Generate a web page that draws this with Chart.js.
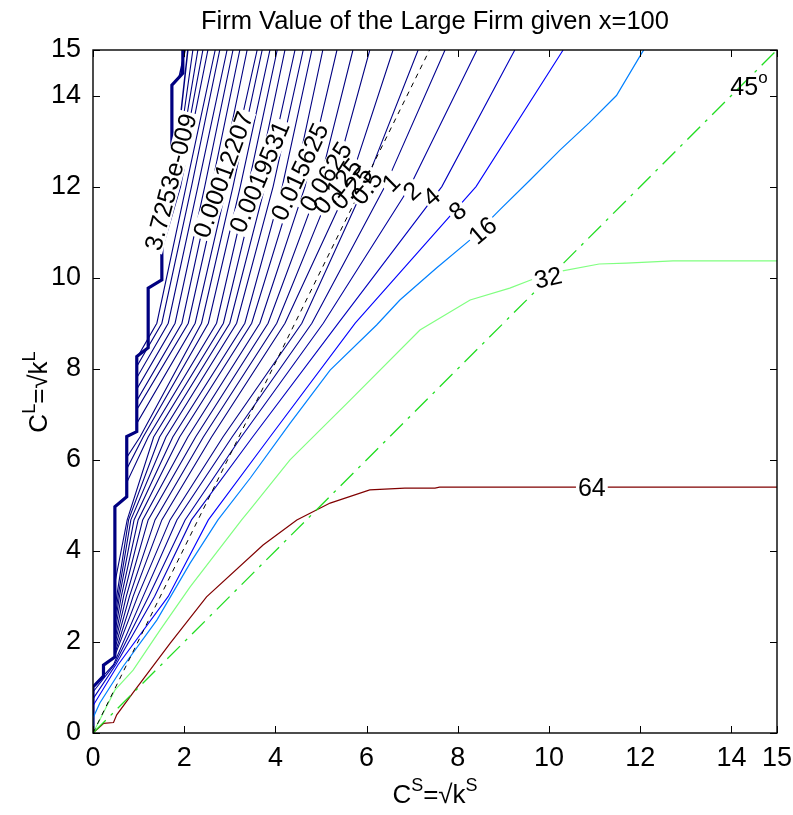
<!DOCTYPE html>
<html>
<head>
<meta charset="utf-8">
<script src="https://cdn.jsdelivr.net/npm/chart.js@4.4.1/dist/chart.umd.min.js"></script>
<style>
html,body{margin:0;padding:0;background:#fff;}
canvas{display:block;}
</style>
</head>
<body>
<canvas id="c" width="793" height="815" style="width:793px;height:815px"></canvas>
<script>
// ---------------- DATA ----------------
const xTicks = [0, 2, 4, 6, 8, 10, 12, 14, 15];
const yTicks = [0, 2, 4, 6, 8, 10, 12, 14, 15];

// contour levels (blue family), highest first
const levels = [8, 4, 2, 1, 0.5, 0.25, 0.125, 0.0625, 0.03125, 0.015625, 0.0078125, 0.00390625,
  0.0019531, 0.00097656, 0.00048828, 0.00024414, 0.00012207, 6.1035e-5, 3.0518e-5, 1.5259e-5,
  7.6294e-6, 3.8147e-6, 1.9073e-6, 9.5367e-7, 4.7684e-7, 2.3842e-7, 1.1921e-7, 5.9605e-8,
  2.9802e-8, 1.4901e-8, 7.4506e-9, 3.7253e-9];

// x position of each blue contour at given heights C^L (null = already merged into the staircase)
const rowY = [15, 12, 9, 6.5, 4.68, 3, 1.5];
const row15 = [10.31, 9.25, 8.42, 7.72, 7.13, 6.58, 6.07, 5.70, 5.35, 5.04, 4.80, 4.61, 4.43, 4.21, 4.04, 3.88,
  3.71, 3.60, 3.38, 3.22, 3.07, 2.94, 2.78, 2.68, 2.52, 2.41, 2.30, 2.19, 2.08, 2.02, 2.00, null];
const row12 = [8.40, 7.65, 6.95, 6.40, 5.95, 5.60, 5.25, 4.95, 4.65, 4.40, 4.15, 3.95, 3.77, 3.58, 3.40, 3.23,
  3.07, 2.93, 2.76, 2.60, 2.45, 2.30, 2.16, 2.04, 1.92, 1.85, 1.80, 1.77, 1.75, null, null, null];
const row9 = [5.75, 5.38, 5.05, 4.80, 4.58, 4.21, 4.03, 3.84, 3.66, 3.48, 3.33, 3.15, 3.00, 2.86, 2.71, 2.53,
  2.38, 2.24, 2.09, 1.95, 1.80, 1.65, 1.51, 1.40, null, null, null, null, null, null, null, null];
const row6_5 = [3.88, 3.50, 3.25, 3.05, 2.85, 2.60, 2.42, 2.25, 2.08, 1.90, 1.75, 1.60, 1.46, 1.33, 1.21, 1.10,
  1.03, null, null, null, null, null, null, null, null, null, null, null, null, null, null, null];
const row4_68 = [2.53, 2.16, 2.02, 1.84, 1.69, 1.51, 1.36, 1.21, 1.09, 0.99, 0.90, 0.83, 0.78, 0.75, null, null,
  null, null, null, null, null, null, null, null, null, null, null, null, null, null, null, null];
const row3 = [1.65, 1.35, 1.22, 1.10, 0.98, 0.88, 0.80, 0.73, 0.67, 0.62, 0.58, 0.55, 0.52, null, null, null,
  null, null, null, null, null, null, null, null, null, null, null, null, null, null, null, null];
const row1_5 = [0.55, 0.50, 0.47, 0.45, null, null, null, null, null, null, null, null, null, null, null, null,
  null, null, null, null, null, null, null, null, null, null, null, null, null, null, null, null];
// height where each contour joins the staircase edge
const mergeY = [0.6, 0.75, 0.9, 1.1, 1.7, 1.75, 1.85, 1.95, 2.05, 2.2, 2.35, 2.5, 2.7, 3.3, 5.5, 5.8,
  6.05, 6.8, 7.1, 7.3, 7.55, 7.8, 8.05, 8.3, 10.6, 11.0, 11.3, 11.5, 11.65, 14.4, 14.45, 15];

// staircase edge (lowest contour 3.7253e-009)
const stairX = [1.97, 1.97, 1.73, 1.73, 1.51, 1.51, 1.21, 1.21, 0.96, 0.96, 0.74, 0.74, 0.48, 0.48, 0.23, 0.23, 0.00, 0.00];
const stairY = [15, 14.49, 14.23, 11.8, 11.6, 9.95, 9.77, 8.46, 8.27, 6.62, 6.51, 5.19, 4.97, 1.67, 1.49, 1.25, 1.01, 0.00];

// level 16
const l16X = [0, 0.00, 0.15, 0.66, 1.40, 2.13, 2.74, 3.45, 4.32, 5.20, 6.22, 6.73, 7.52, 8.27, 8.93, 9.58, 10.24, 10.88, 11.48, 12.05, 12.08];
const l16Y = [0, 0.33, 0.66, 1.46, 2.48, 3.73, 4.68, 5.60, 6.80, 7.97, 8.96, 9.51, 10.20, 10.83, 11.50, 12.14, 12.80, 13.40, 14.00, 14.96, 15.0];
// level 32
const l32X = [0, 0.15, 0.48, 0.88, 1.47, 2.13, 3.26, 3.44, 4.32, 5.64, 7.17, 8.27, 9.14, 9.60, 10.24, 11.10, 11.70, 12.72, 15.0];
const l32Y = [0, 0.29, 0.94, 1.38, 2.26, 3.21, 4.68, 4.90, 6.00, 7.31, 8.85, 9.51, 9.77, 9.95, 10.14, 10.30, 10.32, 10.37, 10.37];
// level 64
const l64X = [0, 0.23, 0.45, 0.52, 0.92, 1.69, 2.49, 3.73, 4.47, 5.20, 6.07, 6.84, 7.50, 7.60, 15.0];
const l64Y = [0, 0.21, 0.23, 0.40, 0.94, 1.97, 2.99, 4.13, 4.68, 5.05, 5.34, 5.38, 5.38, 5.40, 5.40];

// reference lines
const diagX = [0, 15], diagY = [0, 15];          // 45 degree line
const refX = [0, 7.38], refY = [0, 15];          // black dashed line

// contour labels
const labelText = ['3.7253e-009', '0.00012207', '0.0019531', '0.015625', '0.0625', '0.125', '0.25', '0.5', '1', '2', '4', '8', '16', '32', '64'];
const labelX = [1.71, 2.86, 3.66, 4.54, 5.11, 5.37, 5.68, 6.01, 6.54, 7.0, 7.43, 8.0, 8.55, 9.98, 10.94];
const labelY = [12.1, 12.26, 12.21, 12.32, 12.21, 12.0, 11.97, 11.97, 12.08, 11.9, 11.77, 11.46, 11.03, 9.99, 5.38];
const labelAngle = [-75, -70, -67, -65, -58, -52, -48, -52, -45, -42, -40, -40, -40, -12, 0];

// ---------------- BUILD ----------------
const FONT = '"Liberation Sans", Arial, Helvetica, sans-serif';
function jet(t) {
  const c = v => Math.round(255 * Math.max(0, Math.min(1, v)));
  return `rgb(${c(Math.min(4 * t - 1.5, -4 * t + 4.5))},${c(Math.min(4 * t - 0.5, -4 * t + 3.5))},${c(Math.min(4 * t + 0.5, -4 * t + 2.5))})`;
}
function zip(xs, ys) { return xs.map((x, i) => ({ x: x, y: ys[i] })); }
function stairAt(y) {
  for (let k = 0; k < stairY.length - 1; k++) {
    const y0 = stairY[k], y1 = stairY[k + 1];
    if (y <= y0 && y >= y1) {
      const f = y0 === y1 ? 0 : (y0 - y) / (y0 - y1);
      return stairX[k] + f * (stairX[k + 1] - stairX[k]);
    }
  }
  return 0;
}
const rows = [row15, row12, row9, row6_5, row4_68, row3, row1_5];
function contour(i) {
  const pts = [];
  for (let r = 0; r < rows.length; r++) {
    const v = rows[r][i];
    if (v === null) break;
    pts.push({ x: v, y: rowY[r] });
  }
  const m = mergeY[i];
  pts.push({ x: stairAt(m), y: m });
  for (let k = 0; k < stairY.length; k++) if (stairY[k] < m) pts.push({ x: stairX[k], y: stairY[k] });
  return pts;
}

const datasets = [];
datasets.push({ data: zip(refX, refY), borderColor: '#000', borderWidth: 1, borderDash: [5, 5] });
datasets.push({ data: zip(diagX, diagY), borderColor: '#22dd22', borderWidth: 1.3, borderDash: [18, 7, 3, 7] });
datasets.push({ data: zip(l64X, l64Y), borderColor: jet(64 / 64), borderWidth: 1.2 });
datasets.push({ data: zip(l32X, l32Y), borderColor: jet(32 / 64), borderWidth: 1.2 });
datasets.push({ data: zip(l16X, l16Y), borderColor: jet(16 / 64), borderWidth: 1.2 });
levels.forEach((lv, i) => {
  datasets.push({
    data: contour(i),
    borderColor: jet(lv / 64),
    borderWidth: i === levels.length - 1 ? 3.2 : (i >= 28 ? 1.5 : 1.1)
  });
});
datasets.forEach(d => { d.showLine = true; d.pointRadius = 0; d.tension = 0; d.fill = false; });

const decor = {
  id: 'decor',
  afterDatasetsDraw(chart) {
    const { ctx, scales: { x, y } } = chart;
    ctx.save();
    ctx.font = `25px ${FONT}`;
    ctx.textAlign = 'center';
    ctx.textBaseline = 'middle';
    const place = (i, fn) => {
      ctx.save();
      ctx.translate(x.getPixelForValue(labelX[i]), y.getPixelForValue(labelY[i]));
      ctx.rotate(labelAngle[i] * Math.PI / 180);
      fn();
      ctx.restore();
    };
    ctx.fillStyle = '#fff';
    labelText.forEach((t, i) => place(i, () => {
      const w = ctx.measureText(t).width;
      ctx.fillRect(-w / 2 - 2, -10, w + 4, 20);
    }));
    ctx.fillStyle = '#000';
    labelText.forEach((t, i) => place(i, () => ctx.fillText(t, 0, 1)));
    // 45 degree label
    const px = x.getPixelForValue(14.28), py = y.getPixelForValue(14.17);
    ctx.textAlign = 'right';
    ctx.fillText('45', px + 14, py);
    ctx.font = `17px ${FONT}`;
    ctx.textAlign = 'left';
    ctx.fillText('o', px + 14, py - 9);
    ctx.restore();
  },
  afterDraw(chart) {
    const { ctx, chartArea: a, scales: { x, y } } = chart;
    ctx.save();
    ctx.strokeStyle = '#000';
    ctx.lineWidth = 1.4;
    ctx.strokeRect(a.left, a.top, a.right - a.left, a.bottom - a.top);
    ctx.lineWidth = 1;
    ctx.beginPath();
    xTicks.forEach(v => {
      const p = Math.round(x.getPixelForValue(v)) + 0.5;
      ctx.moveTo(p, a.bottom); ctx.lineTo(p, a.bottom - 7);
      ctx.moveTo(p, a.top); ctx.lineTo(p, a.top + 7);
    });
    yTicks.forEach(v => {
      const p = Math.round(y.getPixelForValue(v)) + 0.5;
      ctx.moveTo(a.left, p); ctx.lineTo(a.left + 7, p);
      ctx.moveTo(a.right, p); ctx.lineTo(a.right - 7, p);
    });
    ctx.stroke();
    // title
    ctx.fillStyle = '#000';
    ctx.font = `25.5px ${FONT}`;
    ctx.textAlign = 'center';
    ctx.textBaseline = 'alphabetic';
    ctx.fillText('Firm Value of the Large Firm given x=100', (a.left + a.right) / 2, 29);
    // axis titles with superscripts
    const drawRich = (parts, cx, cy) => {
      const big = `26px ${FONT}`, small = `18px ${FONT}`;
      let w = 0;
      parts.forEach(p => { ctx.font = p.sup ? small : big; w += ctx.measureText(p.t).width; });
      let cur = cx - w / 2;
      ctx.textAlign = 'left';
      parts.forEach(p => {
        ctx.font = p.sup ? small : big;
        ctx.fillText(p.t, cur, p.sup ? cy - 12 : cy);
        cur += ctx.measureText(p.t).width;
      });
    };
    drawRich([{ t: 'C' }, { t: 'S', sup: true }, { t: '=√k' }, { t: 'S', sup: true }], (a.left + a.right) / 2, 803);
    ctx.save();
    ctx.translate(47, 392);
    ctx.rotate(-Math.PI / 2);
    drawRich([{ t: 'C' }, { t: 'L', sup: true }, { t: '=√k' }, { t: 'L', sup: true }], 0, 0);
    ctx.restore();
    ctx.restore();
  }
};

new Chart(document.getElementById('c'), {
  type: 'scatter',
  data: { datasets: datasets },
  options: {
    responsive: false,
    animation: false,
    devicePixelRatio: 1,
    layout: { padding: { top: 50, right: 16, bottom: 0, left: 0 } },
    plugins: { legend: { display: false }, tooltip: { enabled: false }, title: { display: false } },
    scales: {
      x: {
        type: 'linear', min: 0, max: 15,
        afterBuildTicks: s => { s.ticks = xTicks.map(v => ({ value: v })); },
        afterFit: s => { s.height = 82; s.paddingLeft = 0; s.paddingRight = 0; },
        grid: { display: false, drawTicks: false },
        border: { display: false },
        ticks: { color: '#000', font: { family: FONT, size: 27 }, padding: 9, maxRotation: 0, minRotation: 0, autoSkip: false }
      },
      y: {
        type: 'linear', min: 0, max: 15,
        afterBuildTicks: s => { s.ticks = yTicks.map(v => ({ value: v })); },
        afterFit: s => { s.width = 93; s.paddingTop = 0; s.paddingBottom = 0; },
        grid: { display: false, drawTicks: false },
        border: { display: false },
        ticks: { color: '#000', font: { family: FONT, size: 27 }, padding: 12, autoSkip: false }
      }
    }
  },
  plugins: [decor]
});
</script>
</body>
</html>
